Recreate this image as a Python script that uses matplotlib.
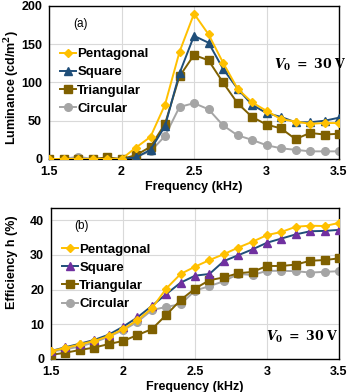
import numpy as np
import matplotlib
matplotlib.use("Agg")
import matplotlib.pyplot as plt

plt.rcParams['font.family'] = ['Liberation Sans', 'DejaVu Sans']
plt.rcParams['mathtext.fontset'] = 'dejavuserif'

freq = [1.5, 1.6, 1.7, 1.8, 1.9, 2.0, 2.1, 2.2, 2.3, 2.4, 2.5,
        2.6, 2.7, 2.8, 2.9, 3.0, 3.1, 3.2, 3.3, 3.4, 3.5]

# (a) luminance, cd/m^2
lum_pent = [0, 0, 0, 0, 0, 0, 15, 29, 71, 140, 190,
            163, 126, 92, 74, 63, 52, 49, 46, 47, 47]
lum_square = [0, 0, 0, 0, 0, 0, 2, 12, 43, 112, 161,
              152, 118, 92, 71, 60, 55, 48, 48, 50, 54]
lum_tri = [0, 0, 0, 0, 2, 0, 5, 16, 46, 108, 136,
           129, 100, 73, 55, 45, 40, 26, 34, 32, 33]
lum_circ = [0, 0, 3, 0, 0, 0, 3, 10, 30, 68, 73,
            65, 44, 31, 25, 18, 14, 12, 10, 10, 10]

# (b) efficiency, %
eff_pent = [2.3, 3.2, 4.2, 5.2, 6.6, 8.6, 11.2, 14.6, 20.3, 24.5, 26.6,
            28.5, 30.2, 32.1, 33.8, 35.7, 36.6, 38.1, 38.4, 38.3, 39.2]
eff_square = [2.3, 3.4, 4.4, 5.5, 7.0, 9.3, 12.0, 15.3, 18.7, 22.0, 24.0,
              24.5, 28.2, 29.9, 31.6, 33.5, 34.7, 35.9, 36.8, 36.9, 37.2]
eff_tri = [1.2, 1.8, 2.6, 3.3, 4.3, 5.2, 6.9, 8.6, 12.7, 17.0, 20.3,
           22.7, 23.5, 24.7, 25.1, 26.8, 26.8, 27.2, 28.3, 28.5, 29.0]
eff_circ = [2.1, 2.8, 3.6, 4.8, 6.4, 8.3, 10.7, 14.1, 15.0, 15.8, 19.7,
            21.0, 22.4, 24.5, 24.2, 25.4, 25.4, 25.3, 24.9, 25.1, 25.3]

YELLOW = '#FFC000'
BLUE = '#1F4E79'
PURPLE = '#7030A0'
BROWN = '#7F6000'
GRAY = '#A5A5A5'

fig = plt.figure(figsize=(3.5, 3.92), dpi=100)
ax1 = fig.add_axes([0.14, 0.5944, 0.8286, 0.3903])
ax2 = fig.add_axes([0.146, 0.0842, 0.8226, 0.3852])


def style(ax, ylim, yticks):
    ax.set_xlim(1.5, 3.5)
    ax.set_ylim(*ylim)
    ax.set_xticks([1.5, 2, 2.5, 3, 3.5])
    ax.set_xticklabels(['1.5', '2', '2.5', '3', '3.5'])
    ax.set_yticks(yticks)
    ax.grid(True, color='#D9D9D9', linewidth=0.8)
    ax.set_axisbelow(True)
    ax.tick_params(length=0, labelsize=9, pad=5)
    for lab in ax.get_xticklabels() + ax.get_yticklabels():
        lab.set_fontweight('bold')
    for s in ax.spines.values():
        s.set_color('black')
        s.set_linewidth(1.0)
    ax.set_xlabel('Frequency (kHz)', fontsize=9, fontweight='bold', labelpad=2)


def legend(ax, anchor):
    leg = ax.legend(loc='upper left', bbox_to_anchor=anchor, frameon=False,
                    fontsize=9.5, handlelength=1.2, handletextpad=0.1,
                    labelspacing=0.45, borderaxespad=0)
    for t in leg.get_texts():
        t.set_fontweight('bold')


# --- panel (a) ---
ax1.plot(freq, lum_pent, color=YELLOW, marker='D', ms=4, lw=1.4, label='Pentagonal', zorder=5)
ax1.plot(freq, lum_square, color=BLUE, marker='^', ms=6, lw=1.4, label='Square', zorder=4)
ax1.plot(freq, lum_tri, color=BROWN, marker='s', ms=5.5, lw=1.4, label='Triangular', zorder=3)
ax1.plot(freq, lum_circ, color=GRAY, marker='o', ms=5.5, lw=1.4, label='Circular', zorder=2)
style(ax1, (0, 200), [0, 50, 100, 150, 200])
ax1.set_ylabel('Luminance (cd/m$^\\mathbf{2}$)', fontsize=9, fontweight='bold')
ax1.yaxis.set_label_coords(-0.097, 0.47)
ax1.text(0.085, 0.86, '(a)', transform=ax1.transAxes, fontsize=8.5)
ax1.text(0.775, 0.59, r'$\mathbfit{V}_{\mathbf{0}}\mathbf{\ =\ 30\ V}$',
         transform=ax1.transAxes, fontsize=9)
legend(ax1, (0.02, 0.76))

# --- panel (b) ---
ax2.plot(freq, eff_pent, color=YELLOW, marker='D', ms=4, lw=1.4, label='Pentagonal', zorder=5)
ax2.plot(freq, eff_square, color=BLUE, marker='^', ms=6, mfc=PURPLE, mec=PURPLE,
         lw=1.4, label='Square', zorder=4)
ax2.plot(freq, eff_tri, color=BROWN, marker='s', ms=5.5, lw=1.4, label='Triangular', zorder=3)
ax2.plot(freq, eff_circ, color=GRAY, marker='o', ms=5.5, lw=1.4, label='Circular', zorder=2)
style(ax2, (0, 43.5), [0, 10, 20, 30, 40])
ax2.set_ylabel('Efficiency h (%)', fontsize=9, fontweight='bold')
ax2.yaxis.set_label_coords(-0.115, 0.64)
ax2.text(0.08, 0.86, '(b)', transform=ax2.transAxes, fontsize=8.5)
ax2.text(0.745, 0.12, r'$\mathbfit{V}_{\mathbf{0}}\mathbf{\ =\ 30\ V}$',
         transform=ax2.transAxes, fontsize=9)
legend(ax2, (0.02, 0.8))

fig.savefig('out.png', dpi=100)
